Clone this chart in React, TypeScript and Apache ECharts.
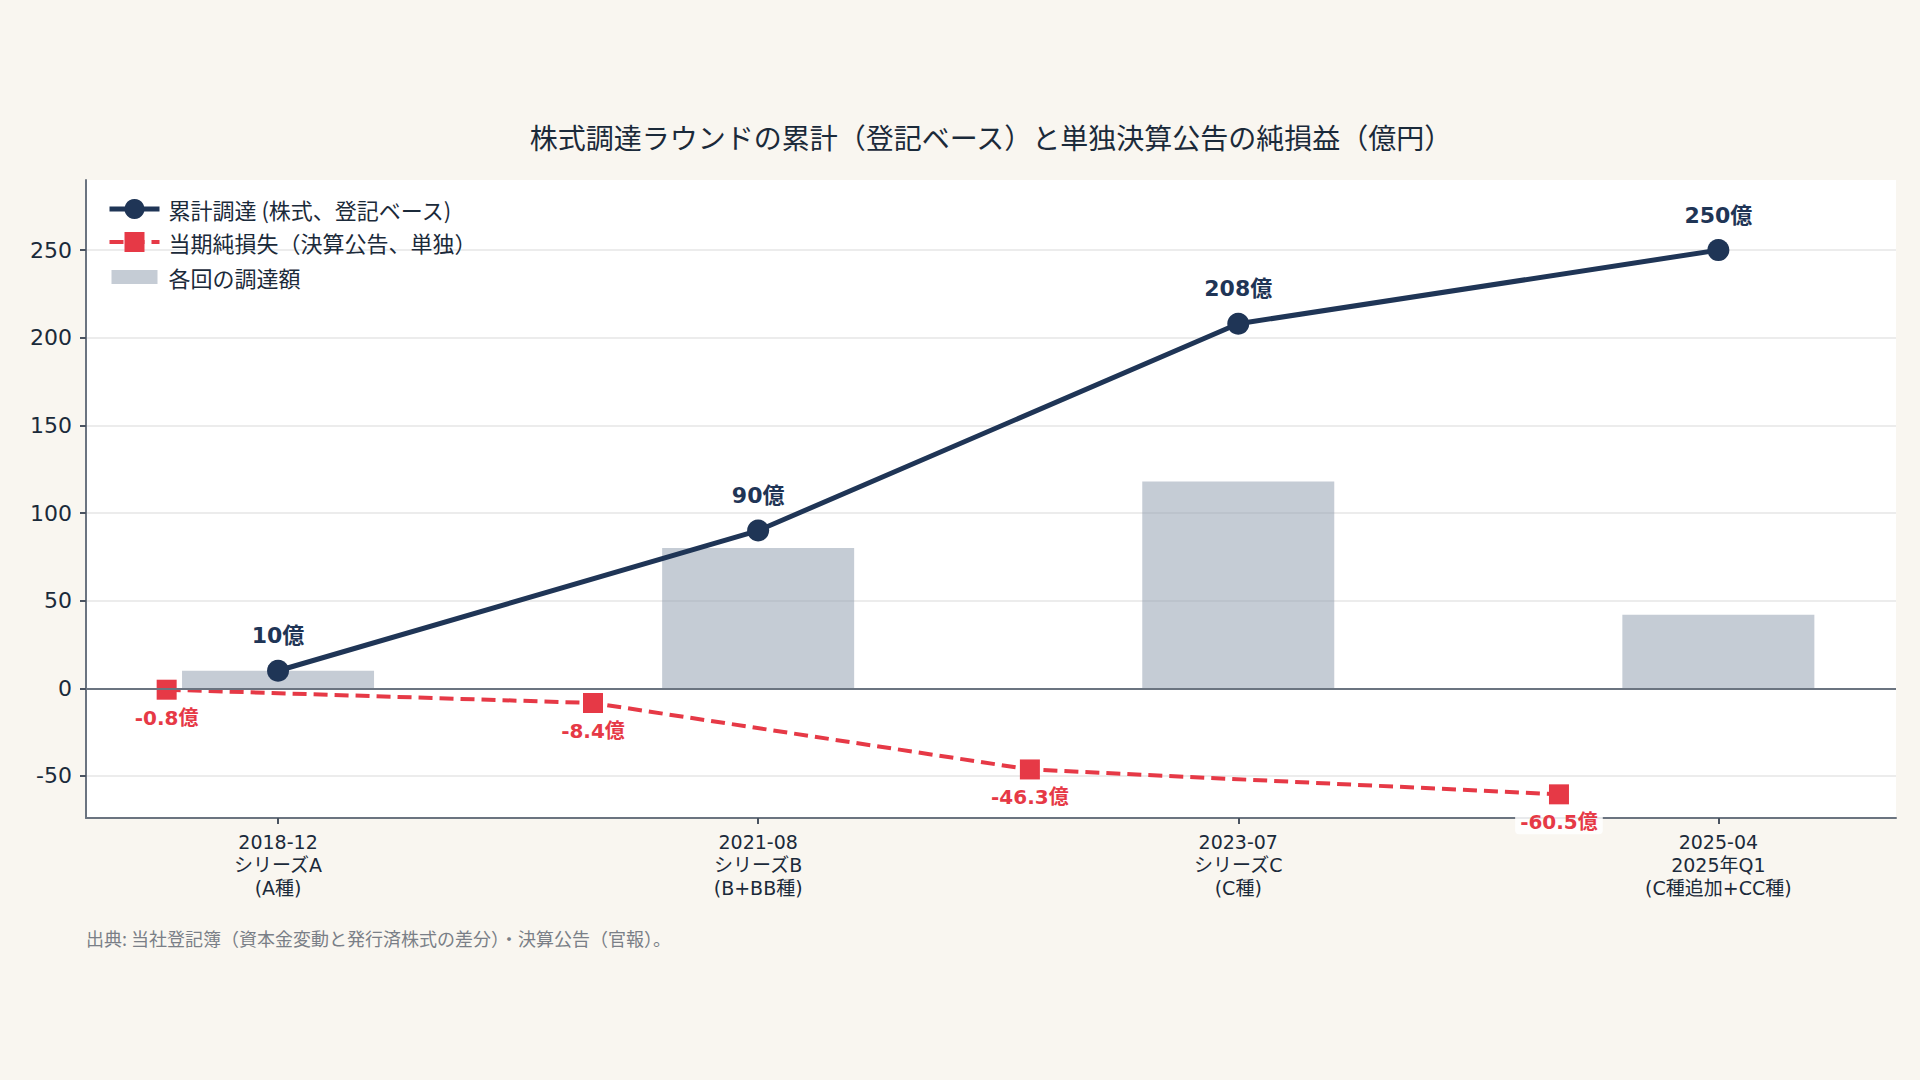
import React, { useEffect, useRef } from 'react';
import * as echarts from 'echarts';

// カテゴリ（ラウンド）
const roundLabels = [
  '2018-12\nシリーズA\n(A種)',
  '2021-08\nシリーズB\n(B+BB種)',
  '2023-07\nシリーズC\n(C種)',
  '2025-04\n2025年Q1\n(C種追加+CC種)',
];
const roundPositions = [0, 1, 2, 3];

// 各回の調達額・累計（億円）
const roundAmounts = [10, 80, 118, 42];
const cumulativeRaised = [10, 90, 208, 250];

// 決算公告の当期純損失（億円）と横位置
const lossPositions = [-0.232, 0.656, 1.566, 2.668];
const netLoss = [-0.8, -8.4, -46.3, -60.5];

const NAVY = '#1f3556';
const RED = '#e63946';
const TEXT = '#1b2a3a';
const BG = '#f9f6f0';
const JP_FONT = '"Noto Sans CJK JP", "Noto Sans", sans-serif';
const NUM_FONT = '"DejaVu Sans", "Noto Sans CJK JP", sans-serif';

const SERIES_CUM = '累計調達 (株式、登記ベース)';
const SERIES_LOSS = '当期純損失（決算公告、単独）';
const SERIES_BAR = '各回の調達額';

const App: React.FC = () => {
  const chartRef = useRef<HTMLDivElement>(null);

  useEffect(() => {
    if (!chartRef.current) return;
    const chart = echarts.init(chartRef.current, undefined, { renderer: 'svg' });

    const option: echarts.EChartsOption = {
      animation: false,
      backgroundColor: BG,
      textStyle: { fontFamily: JP_FONT },
      title: {
        text: '株式調達ラウンドの累計（登記ベース）と単独決算公告の純損益（億円）',
        left: 986,
        textAlign: 'center',
        top: 118,
        textStyle: { fontSize: 28, fontWeight: 'normal', color: TEXT, fontFamily: JP_FONT },
      },
      grid: {
        left: 86,
        right: 24,
        top: 180,
        bottom: 262,
        show: true,
        backgroundColor: '#ffffff',
        borderWidth: 0,
      },
      legend: {
        orient: 'vertical',
        left: 102,
        top: 193,
        itemWidth: 50,
        itemHeight: 25,
        itemGap: 11,
        lineStyle: { width: 'inherit' },
        textStyle: { fontSize: 22, color: TEXT, fontFamily: JP_FONT, padding: [0, 0, 0, 4] },
        data: [
          { name: SERIES_CUM },
          { name: SERIES_LOSS },
          { name: SERIES_BAR, icon: 'path://M0,0M2,6L48,6L48,20L2,20ZM50,25' },
        ],
      },
      xAxis: {
        type: 'value',
        min: -0.4,
        max: 3.37,
        splitNumber: 4,
        axisLine: { onZero: false, lineStyle: { color: '#6b7480', width: 2 } },
        axisTick: { show: true, length: 6, lineStyle: { color: '#4a5360', width: 2 } },
        splitLine: { show: false },
        axisLabel: {
          showMinLabel: false,
          showMaxLabel: false,
          fontSize: 19,
          lineHeight: 23,
          color: TEXT,
          margin: 12,
          fontFamily: NUM_FONT,
          formatter: (v: number) => {
            const idx = roundPositions.indexOf(Math.round(v * 1000) / 1000);
            return idx >= 0 ? roundLabels[idx] : '';
          },
        },
      },
      yAxis: {
        type: 'value',
        min: -74,
        max: 290,
        splitNumber: 7,
        minInterval: 50,
        maxInterval: 50,
        axisLine: { show: true, onZero: false, lineStyle: { color: '#6b7480', width: 2 } },
        axisTick: { show: true, length: 6, lineStyle: { color: '#4a5360', width: 2 } },
        splitLine: {
          show: true,
          showMinLine: false,
          showMaxLine: false,
          lineStyle: { color: '#e6e6e6', width: 1.5 },
        },
        axisLabel: {
          showMinLabel: false,
          showMaxLabel: false,
          fontSize: 22,
          color: TEXT,
          margin: 14,
          fontFamily: NUM_FONT,
        },
      },
      series: [
        {
          name: SERIES_BAR,
          type: 'bar',
          data: roundPositions.map((x, i) => [x, roundAmounts[i]]),
          barWidth: 192,
          itemStyle: { color: 'rgba(139,153,172,0.5)' },
          z: 1,
          markLine: {
            silent: true,
            symbol: 'none',
            label: { show: false },
            lineStyle: { color: '#6b7480', width: 2, type: 'solid' },
            data: [{ yAxis: 0 }],
          },
        },
        {
          name: SERIES_CUM,
          type: 'line',
          data: roundPositions.map((x, i) => [x, cumulativeRaised[i]]),
          symbol: 'circle',
          symbolSize: 22,
          itemStyle: { color: NAVY },
          lineStyle: { color: NAVY, width: 5 },
          z: 4,
          label: {
            show: true,
            position: 'top',
            distance: 13,
            fontSize: 22,
            fontWeight: 'bold',
            color: NAVY,
            fontFamily: NUM_FONT,
            formatter: (p: any) => `${p.value[1]}億`,
          },
        },
        {
          name: SERIES_LOSS,
          type: 'line',
          data: lossPositions.map((x, i) => [x, netLoss[i]]),
          symbol: 'rect',
          symbolSize: 20,
          itemStyle: { color: RED },
          lineStyle: { color: RED, width: 4, type: [14, 7] },
          z: 3,
          label: {
            show: true,
            position: 'bottom',
            distance: 6,
            fontSize: 20,
            fontWeight: 'bold',
            color: RED,
            fontFamily: NUM_FONT,
            backgroundColor: 'rgba(255,255,255,0.85)',
            padding: [2, 5],
            borderRadius: 4,
            formatter: (p: any) => `${p.value[1].toFixed(1)}億`,
          },
        },
      ],
      graphic: [
        {
          type: 'text',
          left: 86,
          top: 929,
          style: {
            text: '出典: 当社登記簿（資本金変動と発行済株式の差分）・決算公告（官報）。',
            fontSize: 18,
            fill: '#7a7f87',
            fontFamily: JP_FONT,
          },
        },
      ],
    };

    chart.setOption(option);

    return () => {
      chart.dispose();
    };
  }, []);

  return (
    <div
      ref={chartRef}
      style={{ position: 'fixed', left: 0, top: 0, width: '1920px', height: '1080px' }}
    />
  );
};

export default App;
